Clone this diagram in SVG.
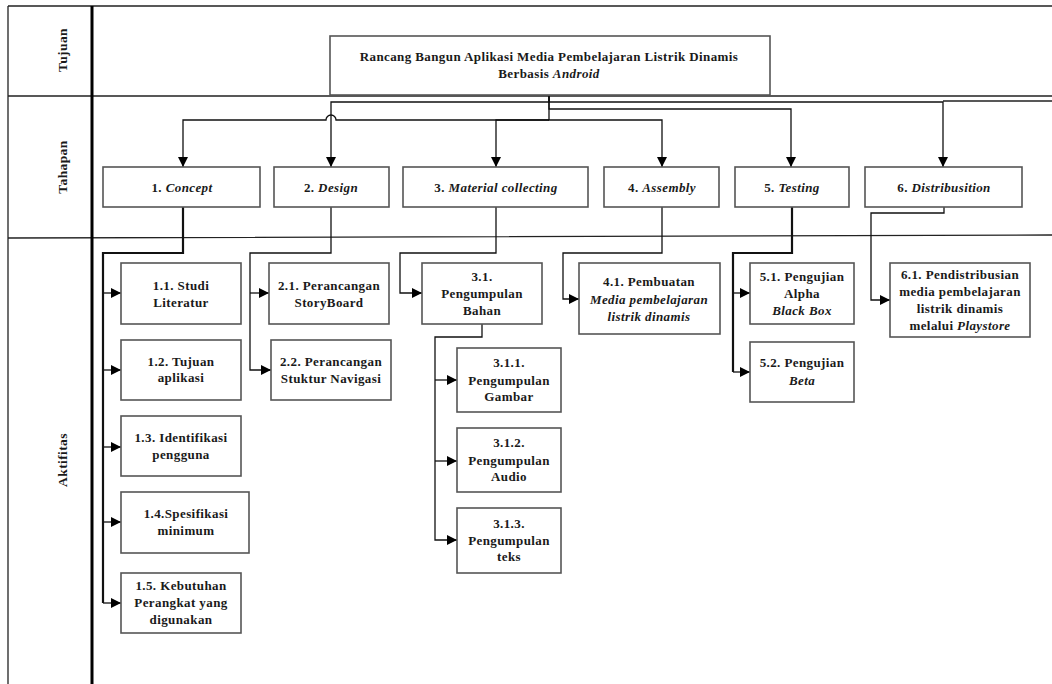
<svg xmlns="http://www.w3.org/2000/svg" width="1052" height="684" viewBox="0 0 1052 684">
<style>
text{font-family:"Liberation Serif","Times New Roman",serif;font-weight:bold;font-size:13px;fill:#1a1a1a;text-anchor:middle;letter-spacing:0.4px}
.i{font-style:italic}
.box{fill:#fff;stroke:#555;stroke-width:1.6}
.lane{fill:none;stroke:#222;stroke-width:1.3}
.c{fill:none;stroke:#111;stroke-width:1.3}
.t{fill:none;stroke:#111;stroke-width:2.2}
.lbl{font-size:13.5px}
</style>
<defs>
<marker id="ar" viewBox="0 0 10 10" refX="10" refY="5" markerWidth="11" markerHeight="10" orient="auto" markerUnits="userSpaceOnUse"><path d="M0,0 L10,5 L0,10 z" fill="#000"/></marker>
</defs>
<g id="lanes">
<path class="lane" d="M8,6 H1052 M8,6 V684 M8,96 H1052 M943,101 H1052 M8,238 L1052,235"/>
<path d="M92,6 V684" stroke="#000" stroke-width="3"/>
<text class="lbl" transform="translate(67,50) rotate(-90)">Tujuan</text>
<text class="lbl" transform="translate(67,167) rotate(-90)">Tahapan</text>
<text class="lbl" transform="translate(67,460) rotate(-90)">Aktifitas</text>
</g>
<g id="connectors">
<path class="c" d="M549,96 V102 H331 V167" marker-end="url(#ar)"/>
<path class="c" d="M549,96 V102 H943 V167" marker-end="url(#ar)"/>
<path class="c" d="M549,96 V109 H791 V167" marker-end="url(#ar)"/>
<path class="c" d="M549,96 V120 H662 V167" marker-end="url(#ar)"/>
<path class="c" d="M549,120 H336 A5,5 0 0 0 326,120 H183 V167" marker-end="url(#ar)"/>
<path class="c" d="M549,120 H496 V167" marker-end="url(#ar)"/>
<path class="t" d="M183,207 V253 H103 V603"/>
<path class="c" d="M103,293 H121" marker-end="url(#ar)"/>
<path class="c" d="M103,370 H121" marker-end="url(#ar)"/>
<path class="c" d="M103,447 H121" marker-end="url(#ar)"/>
<path class="c" d="M103,522 H121" marker-end="url(#ar)"/>
<path class="c" d="M103,603 H121" marker-end="url(#ar)"/>
<path class="c" d="M331,207 V253 H250 V370 H271" marker-end="url(#ar)"/>
<path class="c" d="M250,293 H269" marker-end="url(#ar)"/>
<path class="c" d="M496,207 V253 H400 V293 H422" marker-end="url(#ar)"/>
<path class="c" d="M482,324 V337 H435 V540 H457" marker-end="url(#ar)"/>
<path class="c" d="M435,380 H457" marker-end="url(#ar)"/>
<path class="c" d="M435,461 H457" marker-end="url(#ar)"/>
<path class="c" d="M662,207 V253 H563 V299 H579" marker-end="url(#ar)"/>
<path class="t" d="M792,207 V253 H733 V372"/>
<path class="c" d="M733,372 H750" marker-end="url(#ar)"/>
<path class="c" d="M733,293 H750" marker-end="url(#ar)"/>
<path class="c" d="M944,207 V213 H871 V300 H890" marker-end="url(#ar)"/>
</g>
<g id="title">
<rect class="box" x="330" y="36" width="440" height="59"/>
<text x="549" y="61">Rancang Bangun Aplikasi Media Pembelajaran Listrik Dinamis</text>
<text x="549" y="78">Berbasis <tspan class="i">Android</tspan></text>
</g>
<g id="t1"><rect class="box" x="103" y="167" width="157" height="40"/><text x="182" y="192">1. <tspan class="i">Concept</tspan></text></g>
<g id="t2"><rect class="box" x="274" y="167" width="115" height="40"/><text x="331" y="192">2. <tspan class="i">Design</tspan></text></g>
<g id="t3"><rect class="box" x="403" y="167" width="185" height="40"/><text x="496" y="192">3. <tspan class="i">Material collecting</tspan></text></g>
<g id="t4"><rect class="box" x="604" y="167" width="115" height="40"/><text x="662" y="192">4. <tspan class="i">Assembly</tspan></text></g>
<g id="t5"><rect class="box" x="735" y="167" width="114" height="40"/><text x="792" y="192">5. <tspan class="i">Testing</tspan></text></g>
<g id="t6"><rect class="box" x="865" y="167" width="157" height="40"/><text x="944" y="192">6. <tspan class="i">Distribusition</tspan></text></g>
<g id="a11"><rect class="box" x="121" y="263" width="120" height="61"/><text x="181" y="289.5">1.1. Studi</text><text x="181" y="306.5">Literatur</text></g>
<g id="a12"><rect class="box" x="121" y="340" width="120" height="60"/><text x="181" y="366">1.2. Tujuan</text><text x="181" y="382">aplikasi</text></g>
<g id="a13"><rect class="box" x="121" y="416" width="120" height="60"/><text x="181" y="442">1.3. Identifikasi</text><text x="181" y="459">pengguna</text></g>
<g id="a14"><rect class="box" x="121" y="492" width="128" height="61"/><text x="186" y="518">1.4.Spesifikasi</text><text x="186" y="535">minimum</text></g>
<g id="a15"><rect class="box" x="121" y="573" width="120" height="60"/><text x="181" y="590">1.5. Kebutuhan</text><text x="181" y="607">Perangkat yang</text><text x="181" y="624">digunakan</text></g>
<g id="a21"><rect class="box" x="269" y="263" width="120" height="61"/><text x="329" y="289.5">2.1. Perancangan</text><text x="329" y="306.5">StoryBoard</text></g>
<g id="a22"><rect class="box" x="271" y="340" width="120" height="60"/><text x="331" y="366">2.2. Perancangan</text><text x="331" y="383">Stuktur Navigasi</text></g>
<g id="a31"><rect class="box" x="422" y="263" width="120" height="61"/><text x="482" y="281">3.1.</text><text x="482" y="298">Pengumpulan</text><text x="482" y="315">Bahan</text></g>
<g id="a311"><rect class="box" x="457" y="348" width="104" height="64"/><text x="509" y="367">3.1.1.</text><text x="509" y="385">Pengumpulan</text><text x="509" y="401">Gambar</text></g>
<g id="a312"><rect class="box" x="457" y="428" width="104" height="64"/><text x="509" y="447">3.1.2.</text><text x="509" y="465">Pengumpulan</text><text x="509" y="481">Audio</text></g>
<g id="a313"><rect class="box" x="457" y="508" width="104" height="65"/><text x="509" y="528">3.1.3.</text><text x="509" y="545">Pengumpulan</text><text x="509" y="561">teks</text></g>
<g id="a41"><rect class="box" x="579" y="263" width="141" height="71"/><text x="649" y="286">4.1. Pembuatan</text><text class="i" x="649" y="304">Media pembelajaran</text><text class="i" x="649" y="321">listrik dinamis</text></g>
<g id="a51"><rect class="box" x="750" y="263" width="104" height="61"/><text x="802" y="281">5.1. Pengujian</text><text x="802" y="298">Alpha</text><text class="i" x="802" y="315">Black Box</text></g>
<g id="a52"><rect class="box" x="750" y="342" width="104" height="60"/><text x="802" y="367">5.2. Pengujian</text><text class="i" x="802" y="385">Beta</text></g>
<g id="a61"><rect class="box" x="890" y="263" width="140" height="74"/><text x="960" y="279">6.1. Pendistribusian</text><text x="960" y="296">media pembelajaran</text><text x="960" y="313">listrik dinamis</text><text x="960" y="330">melalui <tspan class="i">Playstore</tspan></text></g>
</svg>
